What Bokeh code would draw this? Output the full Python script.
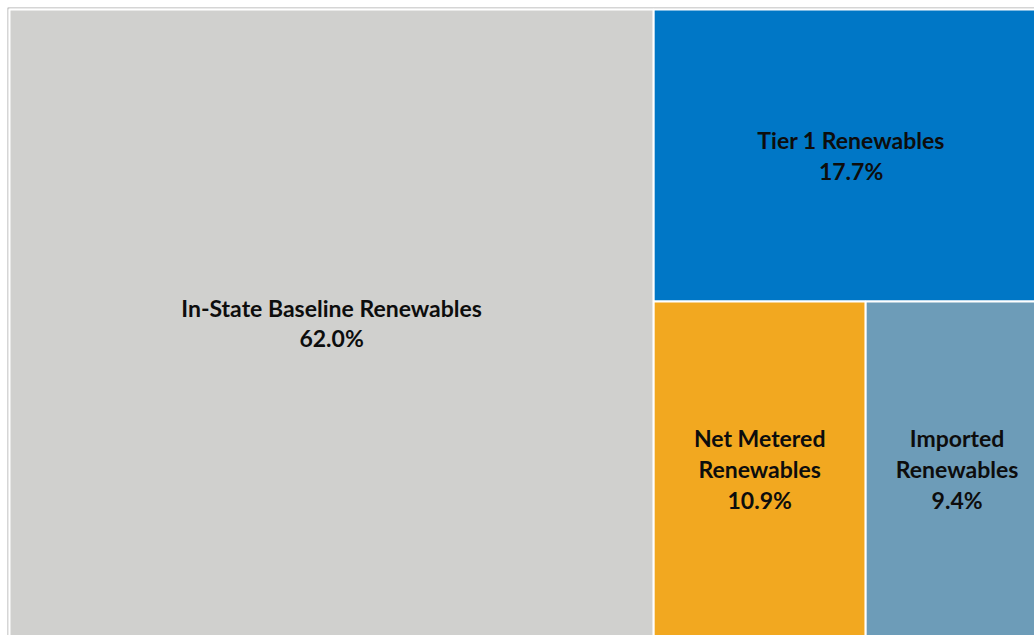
from bokeh.plotting import figure
from bokeh.models import Range1d, ColumnDataSource
from bokeh.embed import file_html
from bokeh.resources import INLINE
from bokeh.core.properties import value

# data
names = ["In-State Baseline Renewables", "Tier 1 Renewables", "Net Metered\nRenewables", "Imported\nRenewables"]
shares = [62.0, 17.7, 10.9, 9.4]
colors = ["#D0D0CE", "#0077C6", "#F2A820", "#6D9CB8"]

W, H = 1034, 635
# treemap area (extends slightly past the window on the right, like the original)
X0, Y0, AW, AH = 9.0, 9.0, 1039.0, 627.0

def slice_dice(vals, x, y, w, h):
    rects = []
    vals = list(vals)
    total = sum(vals)
    for i, v in enumerate(vals):
        if i == len(vals) - 1:
            rects.append((x, y, x + w, y + h))
            break
        frac = v / total
        if w >= h:
            ww = w * frac
            rects.append((x, y, x + ww, y + h))
            x += ww
            w -= ww
        else:
            hh = h * frac
            rects.append((x, y, x + w, y + hh))
            y += hh
            h -= hh
        total -= v
    return rects

rects = slice_dice(shares, X0, Y0, AW, AH)
left = [r[0] for r in rects]
right = [r[2] for r in rects]
top = [r[1] for r in rects]
bottom = [r[3] for r in rects]
cx = [(r[0] + r[2]) / 2 for r in rects]
cy = [(r[1] + r[3]) / 2 for r in rects]
labels = [f"{n}\n{s:.1f}%" for n, s in zip(names, shares)]

src = ColumnDataSource(dict(left=left, right=right, top=top, bottom=bottom,
                            color=colors, cx=cx, cy=cy, label=labels))

p = figure(width=W, height=H, output_backend="svg", toolbar_location=None,
           x_range=Range1d(0, W), y_range=Range1d(H, 0),
           min_border=0, min_border_left=0, min_border_right=0,
           min_border_top=0, min_border_bottom=0)
p.axis.visible = False
p.grid.visible = False
p.outline_line_color = None
p.background_fill_color = "white"
p.border_fill_color = "white"

# outer chart border
p.quad(left=[7.5], right=[1100], top=[7.5], bottom=[700], fill_color=None,
       line_color="#C8C8C8", line_width=1.5)

p.quad(left="left", right="right", top="top", bottom="bottom", source=src,
       fill_color="color", line_color="white", line_width=2)

p.text(x="cx", y="cy", text="label", source=src, text_align="center",
       text_baseline="middle", text_font=value("Lato"), text_font_style="bold",
       text_font_size="23px", text_color="#0D0D0D", text_line_height=1.1)

open("out.html", "w").write(file_html(p, INLINE))
